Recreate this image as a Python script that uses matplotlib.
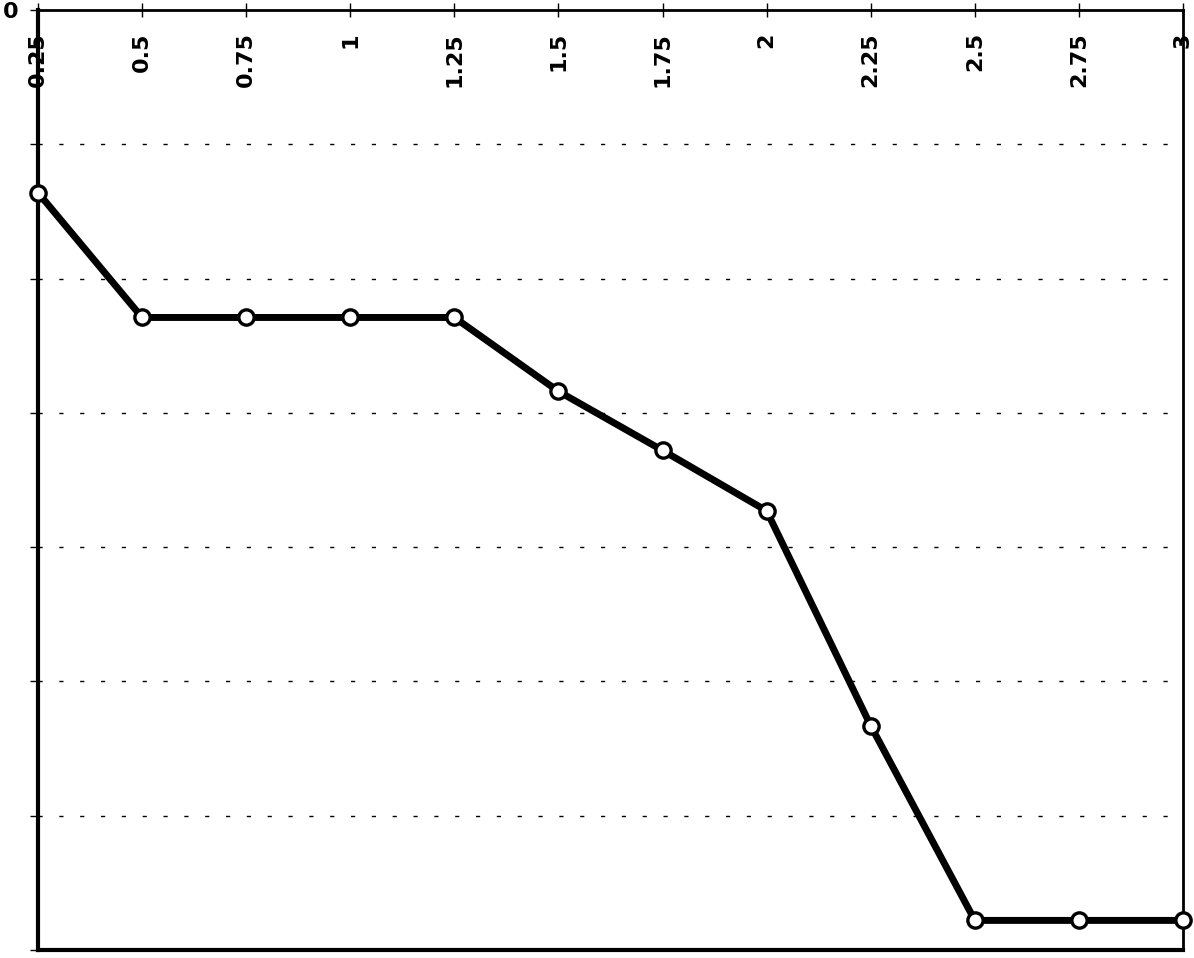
import matplotlib.pyplot as plt

x_vals = [0.25, 0.5, 0.75, 1.0, 1.25, 1.5, 1.75, 2.0, 2.25, 2.5, 2.75, 3.0]
y_vals = [13.6, 22.9, 22.9, 22.9, 22.9, 28.4, 32.8, 37.3, 53.3, 67.8, 67.8, 67.8]
x_ticks = [0.25, 0.5, 0.75, 1, 1.25, 1.5, 1.75, 2, 2.25, 2.5, 2.75, 3]
x_labels = ['0.25', '0.5', '0.75', '1', '1.25', '1.5', '1.75', '2', '2.25', '2.5', '2.75', '3']
y_ticks = [0, 10, 20, 30, 40, 50, 60, 70]
y_labels = ['0', '', '', '', '', '', '', '']

plt.rcParams['font.family'] = ['DejaVu Sans']

fig = plt.figure(figsize=(11.94, 9.58), dpi=100)
ax = fig.add_axes([0.0318, 0.0084, 0.959, 0.9812])

# dashed horizontal grid
for v in y_ticks[1:-1]:
    ax.axhline(v, color='black', lw=1.0, dashes=(3, 12), zorder=1)

ax.plot(x_vals, y_vals, color='black', lw=5, marker='o', markersize=11,
        markerfacecolor='white', markeredgecolor='black', markeredgewidth=2.4,
        zorder=3, clip_on=False)

ax.set_xlim(0.25, 3)
ax.set_ylim(70, 0)

ax.set_xticks(x_ticks)
ax.set_xticklabels(x_labels, fontweight='bold')
ax.set_yticks(y_ticks)
ax.set_yticklabels(y_labels, fontweight='bold')

ax.tick_params(axis='x', top=True, labeltop=True, bottom=False, labelbottom=False,
               direction='inout', length=10, width=1, pad=-21, labelrotation=90,
               labelsize=16)
for lab in ax.get_xticklabels():
    lab.set_verticalalignment('top')
ax.tick_params(axis='y', direction='out', length=6, width=1, pad=8, labelsize=16)

ax.spines['left'].set_linewidth(3)
ax.spines['bottom'].set_linewidth(3)
ax.spines['top'].set_linewidth(2)
ax.spines['right'].set_linewidth(2)

fig.savefig('out.png', dpi=100)
